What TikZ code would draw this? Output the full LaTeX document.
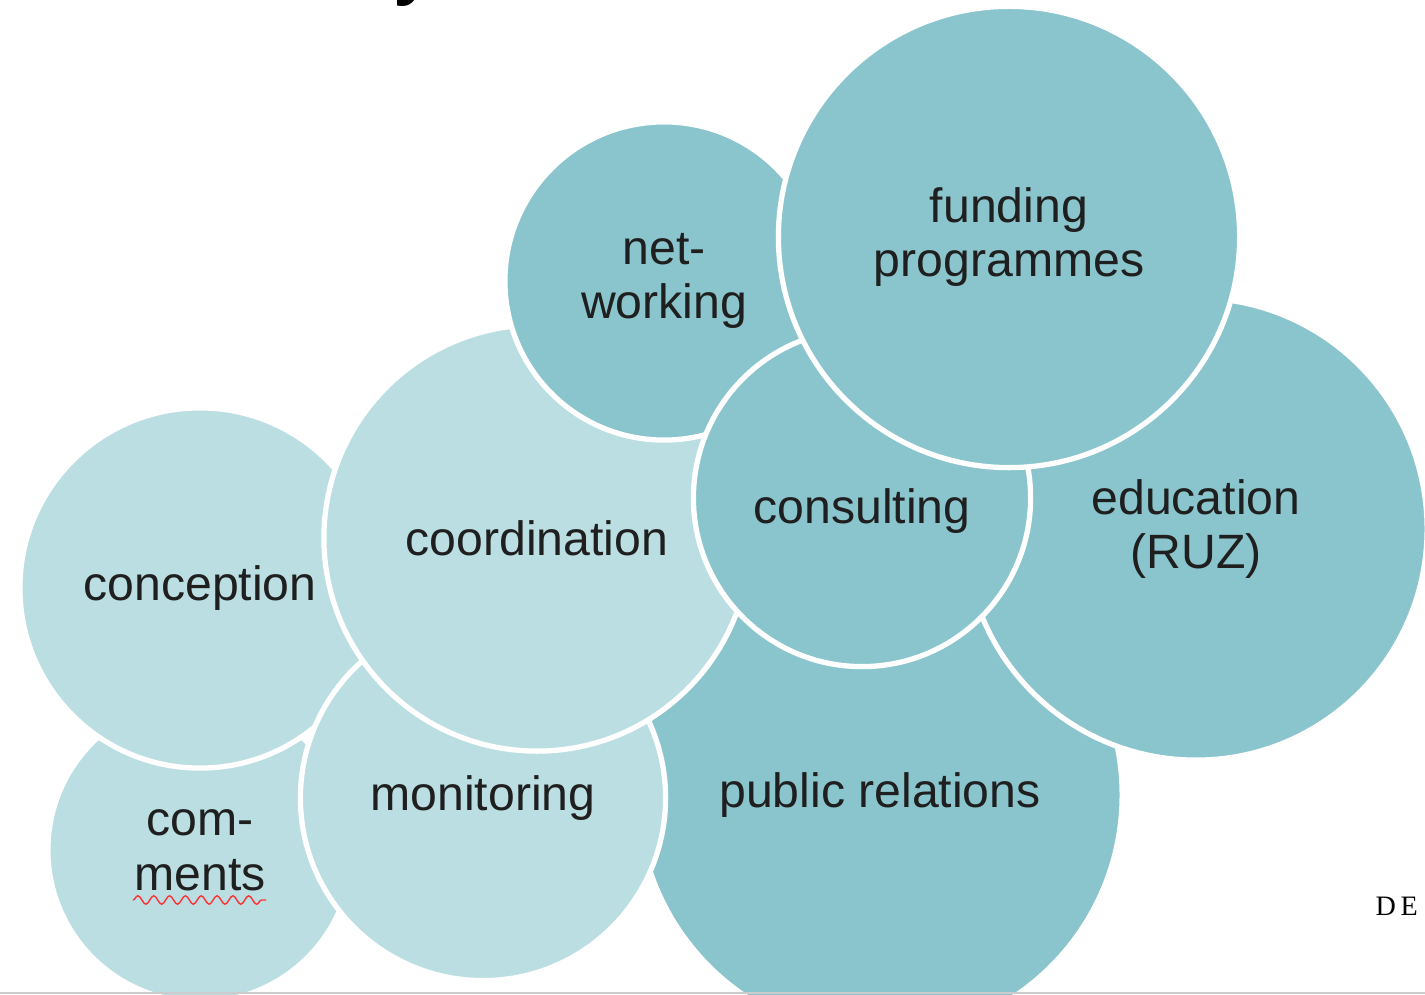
\documentclass[tikz,border=0pt]{standalone}
\usepackage{fontspec}
\setmainfont{Liberation Sans}
\newfontfamily\logofont{Liberation Serif}
\usetikzlibrary{decorations.pathmorphing}
\definecolor{tealdark}{HTML}{8AC5CD}
\definecolor{tealpale}{HTML}{BBDEE2}

\begin{document}
\begin{tikzpicture}[x=0.01cm, y=-0.01cm,
  bubble/.style={circle, draw=white, line width=1.5pt, align=center, inner sep=0pt,
    text=black!88, font=\fontsize{13.7}{15.6}\selectfont},
  pale/.style={bubble, fill=tealpale},
  dark/.style={bubble, fill=tealdark}]
  \useasboundingbox (0,0) rectangle (1425,995);
  \clip (0,0) rectangle (1425,995);
  % cut-off title and logo
  \node[anchor=base west, inner sep=0pt, font=\fontsize{26}{30}\selectfont] (title) at (394,-12) {y};
  \node[anchor=base west, inner sep=0pt, font=\logofont\fontsize{8}{9}\selectfont] (logo) at (1375,915) {D\,E};
  % bubbles, back to front
  \node[pale, minimum size=3.04cm] (com) at (200,850) {com-\\ments};
  \node[pale, minimum size=3.6cm] (conc) at (200,588) {conception};
  \node[dark, minimum size=4.84cm] (pr) at (880,795) {public relations};
  \node[pale, minimum size=3.65cm] (mon) at (483,798) {monitoring};
  \node[pale, minimum size=4.26cm] (coord) at (537,538) {coordination};
  \node[dark, minimum size=3.18cm] (net) at (664,281) {net-\\working};
  \node[dark, minimum size=4.62cm] (edu) at (1196,529) {education\\(RUZ)};
  \node[dark, minimum size=3.37cm,
    label={[font=\fontsize{13.7}{15.6}\selectfont, text=black!88, yshift=-0.13cm]center:consulting}]
    (cons) at (862,498) {};
  \node[dark, minimum size=4.61cm] (fund) at (1009,237) {funding\\programmes};
  % spell-check mark and bottom rule
  \draw[red!80, line width=0.4pt, decorate, decoration={snake, amplitude=1.2pt, segment length=4.5pt}]
    (133,900) -- (266,900);
  \draw[black!20, line width=0.6pt] (0,993) -- (1425,993);
\end{tikzpicture}
\end{document}
